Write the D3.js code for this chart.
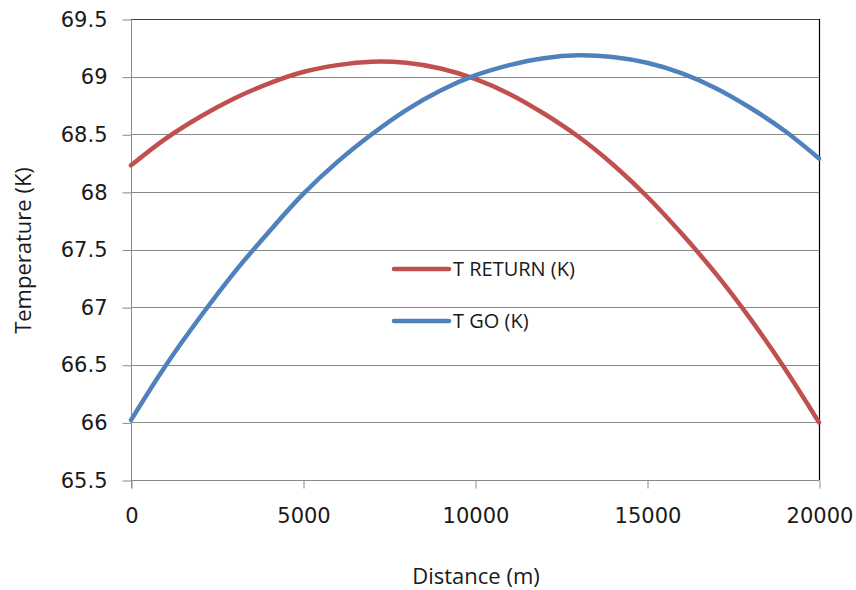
<!DOCTYPE html>
<html>
<head>
<meta charset="utf-8">
<script src="https://cdn.jsdelivr.net/npm/d3@7"></script>
<style>
  html, body { margin: 0; padding: 0; background: #ffffff; }
  svg { display: block; }
</style>
</head>
<body>
<svg id="chart" width="856" height="590"></svg>
<script>
// ---- data ----
const distances = [0, 1000, 2000, 3000, 4000, 5000, 6000, 7000, 8000, 9000, 10000,
                   11000, 12000, 13000, 14000, 15000, 16000, 17000, 18000, 19000, 20000];
const tReturn = [68.23, 68.46, 68.65, 68.81, 68.94, 69.04, 69.10, 69.13, 69.12, 69.07, 68.98,
                 68.85, 68.68, 68.48, 68.24, 67.96, 67.64, 67.29, 66.90, 66.47, 66.00];
const tGo = [66.02, 66.49, 66.91, 67.30, 67.65, 67.98, 68.26, 68.50, 68.71, 68.88, 69.01,
             69.10, 69.16, 69.185, 69.17, 69.12, 69.03, 68.90, 68.73, 68.53, 68.29];
const xTicks = [0, 5000, 10000, 15000, 20000];
const yTicks = [65.5, 66, 66.5, 67, 67.5, 68, 68.5, 69, 69.5];
const seriesNames = ["T RETURN (K)", "T GO (K)"];
const seriesColors = ["#C0504D", "#4F81BD"];
const xTitle = "Distance (m)";
const yTitle = "Temperature (K)";

// ---- layout ----
const svg = d3.select("#chart");
const pLeft = 131, pRight = 819, pTop = 19, pBottom = 480;

const x = d3.scaleLinear().domain([0, 20000]).range([pLeft, pRight]);
const y = d3.scaleLinear().domain([65.5, 69.5]).range([pBottom, pTop]);

// gridlines
svg.append("g").selectAll("line")
  .data(yTicks.filter(v => v > 65.5 && v < 69.5))
  .join("line")
  .attr("x1", pLeft).attr("x2", pRight)
  .attr("y1", d => Math.round(y(d)) + 0.5).attr("y2", d => Math.round(y(d)) + 0.5)
  .attr("stroke", "#8a8a8a").attr("stroke-width", 1);

// top & right border
svg.append("line").attr("x1", pLeft).attr("x2", pRight)
  .attr("y1", Math.round(y(69.5)) + 0.5).attr("y2", Math.round(y(69.5)) + 0.5)
  .attr("stroke", "#404040").attr("stroke-width", 1);
svg.append("line").attr("x1", Math.round(x(20000)) + 0.5).attr("x2", Math.round(x(20000)) + 0.5)
  .attr("y1", pTop).attr("y2", pBottom)
  .attr("stroke", "#000").attr("stroke-width", 1.2);

// y axis
const yAxis = d3.axisLeft(y).tickValues(yTicks).tickSize(9).tickPadding(15)
  .tickFormat(d => String(d));
const gy = svg.append("g").attr("transform", `translate(${pLeft + 0.5},0.5)`).call(yAxis);
gy.select(".domain").attr("stroke", "#8a8a8a").attr("d", `M0,${pTop}V${pBottom + 8}`);
gy.selectAll(".tick line").attr("stroke", "#8a8a8a");
gy.selectAll(".tick text")
  .attr("font-family", "DejaVu Sans").attr("font-size", 21).attr("fill", "#1a1a1a");

// x axis
const xAxis = d3.axisBottom(x).tickValues(xTicks).tickSize(8).tickPadding(20)
  .tickFormat(d => String(d));
const gx = svg.append("g").attr("transform", `translate(0.5,${pBottom + 0.5})`).call(xAxis);
gx.select(".domain").attr("stroke", "#8a8a8a").attr("d", `M${pLeft},0H${pRight}`);
gx.selectAll(".tick line").attr("stroke", "#8a8a8a");
gx.selectAll(".tick text")
  .attr("font-family", "DejaVu Sans").attr("font-size", 21).attr("fill", "#1a1a1a");

// lines
const line = d3.line()
  .x((d, i) => x(distances[i]))
  .y(d => y(d))
  .curve(d3.curveCatmullRom.alpha(0.5));

[tReturn, tGo].forEach((vals, k) => {
  svg.append("path").datum(vals)
    .attr("d", line)
    .attr("fill", "none")
    .attr("stroke", seriesColors[k])
    .attr("stroke-width", 4.5)
    .attr("stroke-linejoin", "round")
    .attr("stroke-linecap", "round");
});

// legend
const legendY = [269, 321];
seriesNames.forEach((name, k) => {
  svg.append("line")
    .attr("x1", 394).attr("x2", 449)
    .attr("y1", legendY[k]).attr("y2", legendY[k])
    .attr("stroke", seriesColors[k]).attr("stroke-width", 4.5)
    .attr("stroke-linecap", "round");
  svg.append("text")
    .attr("x", 453).attr("y", legendY[k] + 6.5)
    .attr("font-family", "Open Sans").attr("font-size", 20).attr("fill", "#1a1a1a")
    .text(name);
});

// axis titles
svg.append("text")
  .attr("x", 476).attr("y", 584)
  .attr("text-anchor", "middle")
  .attr("font-family", "Open Sans").attr("font-size", 22).attr("fill", "#1a1a1a")
  .text(xTitle);
svg.append("text")
  .attr("transform", "translate(31,250.5) rotate(-90)")
  .attr("text-anchor", "middle")
  .attr("font-family", "Open Sans").attr("font-size", 22).attr("fill", "#1a1a1a")
  .text(yTitle);
</script>
</body>
</html>
